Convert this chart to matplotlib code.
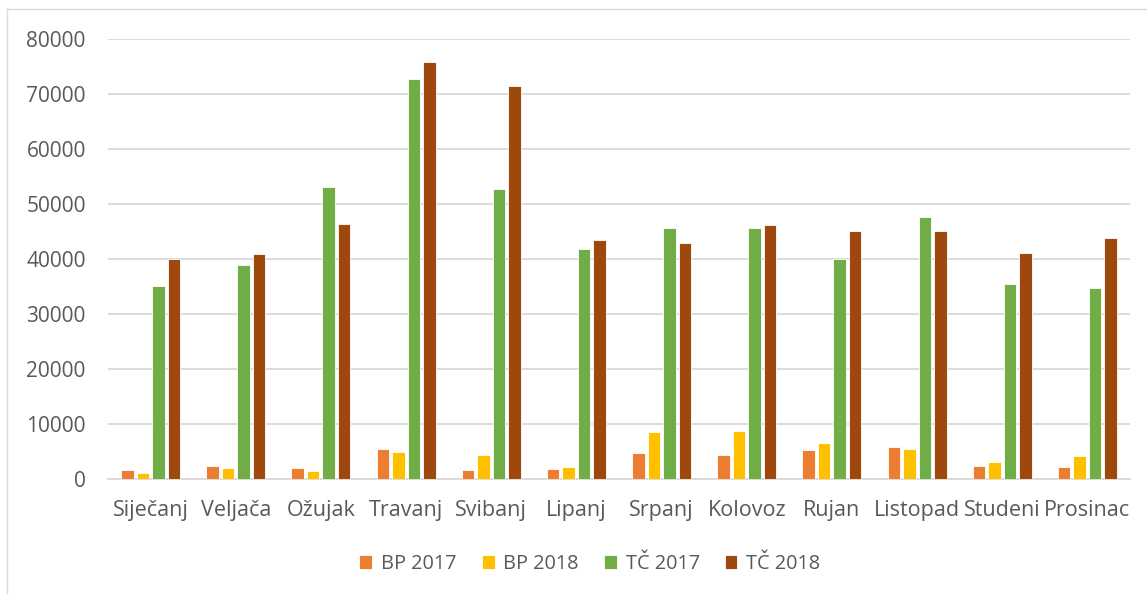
import matplotlib
matplotlib.use("Agg")
import matplotlib.pyplot as plt
import numpy as np
from matplotlib.lines import Line2D

months = ["Siječanj", "Veljača", "Ožujak", "Travanj", "Svibanj", "Lipanj",
          "Srpanj", "Kolovoz", "Rujan", "Listopad", "Studeni", "Prosinac"]
bp2017 = [1650, 2450, 2030, 5400, 1710, 1900, 4660, 4350, 5270, 5760, 2320, 2140]
bp2018 = [1170, 2080, 1530, 4900, 4290, 2270, 8580, 8710, 6630, 5400, 3060, 4110]
tc2017 = [35100, 38900, 53100, 72700, 52700, 41800, 45600, 45600, 40000, 47600, 35450, 34700]
tc2018 = [40000, 40900, 46400, 75800, 71500, 43500, 42900, 46200, 45100, 45100, 41100, 43800]
series_names = ["BP 2017", "BP 2018", "TČ 2017", "TČ 2018"]
yticks = [0, 10000, 20000, 30000, 40000, 50000, 60000, 70000, 80000]

colors = ["#ED7D31", "#FFC000", "#70AD47", "#9E480E"]
text_color = "#595959"

plt.rcParams['font.family'] = ['Open Sans', 'DejaVu Sans']

W, H = 1147, 595
fig = plt.figure(figsize=(W/100, H/100), dpi=100)
ax = fig.add_axes([108/W, 1 - 479/H, (1130-108)/W, (479-39)/H])

x = np.arange(len(months))
pitch = 0.182
width = 0.146
data = [bp2017, bp2018, tc2017, tc2018]
for i, (vals, name, c) in enumerate(zip(data, series_names, colors)):
    ax.bar(x + (i - 1.5) * pitch, vals, width=width, color=c, label=name,
           edgecolor="white", linewidth=0.6, zorder=3)

ax.set_xlim(-0.5, len(months) - 0.5)
ax.set_ylim(0, 80000)
ax.set_yticks(yticks)
ax.set_yticklabels([str(v) for v in yticks])
ax.set_xticks(x)
ax.set_xticklabels(months)
ax.tick_params(axis='both', length=0, colors=text_color)
ax.tick_params(axis='y', pad=16, labelsize=15)
ax.tick_params(axis='x', pad=15, labelsize=15.5)
ax.grid(axis='y', color="#D9D9D9", linewidth=1.3, zorder=0)
for s in ["top", "right", "left"]:
    ax.spines[s].set_visible(False)
ax.spines["bottom"].set_color("#D9D9D9")
ax.spines["bottom"].set_linewidth(1.3)

leg = fig.legend(loc="center", bbox_to_anchor=(590/W, 1 - 564/H), ncol=4,
                 frameon=False, fontsize=14.3, handlelength=0.65, handleheight=0.65,
                 columnspacing=1.25, handletextpad=0.45)
for t in leg.get_texts():
    t.set_color(text_color)

# outer chart border (top and left visible, extending beyond right)
fig.lines.append(Line2D([7/W, 7/W], [1 - 593/H, 1 - 9/H], transform=fig.transFigure,
                        color="#D9D9D9", linewidth=1))
fig.lines.append(Line2D([7/W, 1.0], [1 - 9/H, 1 - 9/H], transform=fig.transFigure,
                        color="#D9D9D9", linewidth=1))

fig.savefig("out.png", dpi=100)
